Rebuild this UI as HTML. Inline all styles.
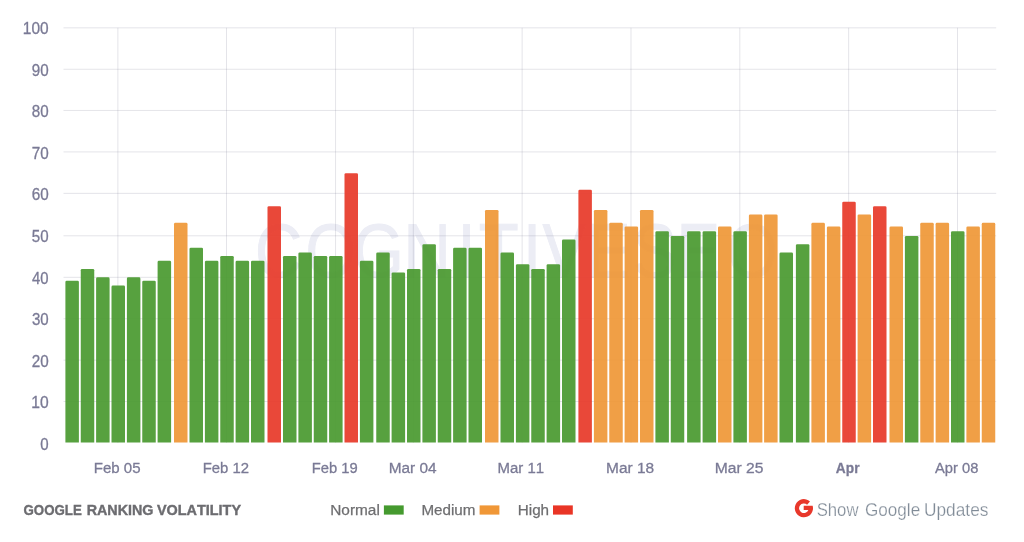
<!DOCTYPE html>
<html lang="en"><head><meta charset="utf-8"><title>Google Ranking Volatility</title>
<style>html,body{margin:0;padding:0;background:#fff;}body{width:1024px;height:542px;overflow:hidden;position:relative;font-family:"Liberation Sans",sans-serif;}svg{position:absolute;left:0;top:0;display:block;filter:blur(0.3px)}text{font-family:"Liberation Sans",sans-serif;font-kerning:none;}</style></head><body>
<svg width="1024" height="542" viewBox="0 0 1024 542">
<g transform="scale(0.860,1)"><text x="296.5 355.1 410.6 469.3 532.1 556.8 608.2 630.7 682.5 735.7 786.5 845.5" y="277.4" font-size="76" fill="#ecedf5" stroke="#ecedf5" stroke-width="0.9">COGNITIVESEO</text></g>
<g stroke="#5e5e7c" stroke-opacity="0.17" stroke-width="1">
<line x1="63.5" y1="401.50" x2="996.2" y2="401.50"/>
<line x1="63.5" y1="360.11" x2="996.2" y2="360.11"/>
<line x1="63.5" y1="318.72" x2="996.2" y2="318.72"/>
<line x1="63.5" y1="277.33" x2="996.2" y2="277.33"/>
<line x1="63.5" y1="235.80" x2="996.2" y2="235.80"/>
<line x1="63.5" y1="193.36" x2="996.2" y2="193.36"/>
<line x1="63.5" y1="151.92" x2="996.2" y2="151.92"/>
<line x1="63.5" y1="110.45" x2="996.2" y2="110.45"/>
<line x1="63.5" y1="69.25" x2="996.2" y2="69.25"/>
<line x1="63.5" y1="27.84" x2="996.2" y2="27.84"/>
<line x1="117.90" y1="27.84" x2="117.90" y2="442.90"/>
<line x1="226.50" y1="27.84" x2="226.50" y2="442.90"/>
<line x1="335.57" y1="27.84" x2="335.57" y2="442.90"/>
<line x1="413.31" y1="27.84" x2="413.31" y2="442.90"/>
<line x1="522.15" y1="27.84" x2="522.15" y2="442.90"/>
<line x1="630.98" y1="27.84" x2="630.98" y2="442.90"/>
<line x1="739.82" y1="27.84" x2="739.82" y2="442.90"/>
<line x1="848.66" y1="27.84" x2="848.66" y2="442.90"/>
<line x1="957.49" y1="27.84" x2="957.49" y2="442.90"/>
</g>
<g fill="#7a7a95" stroke="#7a7a95" stroke-width="0.3" font-size="15.7">
<text x="40.26" y="449.60" textLength="8.38" lengthAdjust="spacingAndGlyphs">0</text>
<text x="31.26" y="408.10" textLength="17.40" lengthAdjust="spacingAndGlyphs">10</text>
<text x="31.68" y="366.71" textLength="16.96" lengthAdjust="spacingAndGlyphs">20</text>
<text x="31.88" y="325.32" textLength="16.76" lengthAdjust="spacingAndGlyphs">30</text>
<text x="32.11" y="283.93" textLength="16.52" lengthAdjust="spacingAndGlyphs">40</text>
<text x="31.85" y="242.40" textLength="16.79" lengthAdjust="spacingAndGlyphs">50</text>
<text x="31.68" y="199.96" textLength="16.97" lengthAdjust="spacingAndGlyphs">60</text>
<text x="31.67" y="158.52" textLength="16.98" lengthAdjust="spacingAndGlyphs">70</text>
<text x="31.79" y="117.05" textLength="16.85" lengthAdjust="spacingAndGlyphs">80</text>
<text x="31.74" y="75.85" textLength="16.91" lengthAdjust="spacingAndGlyphs">90</text>
<text x="22.87" y="34.44" textLength="25.78" lengthAdjust="spacingAndGlyphs">100</text>
</g>
<g opacity="0.93">
<path fill="#4b9a31" d="M65.40 442.4V282.12q0 -1.3 1.3 -1.3h10.90q1.3 0 1.3 1.3V442.4z"/>
<path fill="#4b9a31" d="M80.75 442.4V270.35q0 -1.3 1.3 -1.3h10.90q1.3 0 1.3 1.3V442.4z"/>
<path fill="#4b9a31" d="M96.10 442.4V278.63q0 -1.3 1.3 -1.3h10.90q1.3 0 1.3 1.3V442.4z"/>
<path fill="#4b9a31" d="M111.50 442.4V286.91q0 -1.3 1.3 -1.3h10.90q1.3 0 1.3 1.3V442.4z"/>
<path fill="#4b9a31" d="M126.90 442.4V278.63q0 -1.3 1.3 -1.3h10.90q1.3 0 1.3 1.3V442.4z"/>
<path fill="#4b9a31" d="M142.25 442.4V282.12q0 -1.3 1.3 -1.3h10.90q1.3 0 1.3 1.3V442.4z"/>
<path fill="#4b9a31" d="M157.60 442.4V262.07q0 -1.3 1.3 -1.3h10.90q1.3 0 1.3 1.3V442.4z"/>
<path fill="#ef9838" d="M174.00 442.4V224.13q0 -1.3 1.3 -1.3h10.90q1.3 0 1.3 1.3V442.4z"/>
<path fill="#4b9a31" d="M189.50 442.4V249.01q0 -1.3 1.3 -1.3h10.90q1.3 0 1.3 1.3V442.4z"/>
<path fill="#4b9a31" d="M204.90 442.4V262.07q0 -1.3 1.3 -1.3h10.90q1.3 0 1.3 1.3V442.4z"/>
<path fill="#4b9a31" d="M220.25 442.4V257.28q0 -1.3 1.3 -1.3h10.90q1.3 0 1.3 1.3V442.4z"/>
<path fill="#4b9a31" d="M235.60 442.4V262.07q0 -1.3 1.3 -1.3h10.90q1.3 0 1.3 1.3V442.4z"/>
<path fill="#4b9a31" d="M251.00 442.4V262.07q0 -1.3 1.3 -1.3h10.90q1.3 0 1.3 1.3V442.4z"/>
<path fill="#e83b2b" d="M267.50 442.4V207.57q0 -1.3 1.3 -1.3h10.90q1.3 0 1.3 1.3V442.4z"/>
<path fill="#4b9a31" d="M283.00 442.4V257.28q0 -1.3 1.3 -1.3h10.90q1.3 0 1.3 1.3V442.4z"/>
<path fill="#4b9a31" d="M298.40 442.4V253.80q0 -1.3 1.3 -1.3h10.90q1.3 0 1.3 1.3V442.4z"/>
<path fill="#4b9a31" d="M313.75 442.4V257.28q0 -1.3 1.3 -1.3h10.90q1.3 0 1.3 1.3V442.4z"/>
<path fill="#4b9a31" d="M329.10 442.4V257.28q0 -1.3 1.3 -1.3h10.90q1.3 0 1.3 1.3V442.4z"/>
<path fill="#e83b2b" d="M344.50 442.4V174.47q0 -1.3 1.3 -1.3h10.90q1.3 0 1.3 1.3V442.4z"/>
<path fill="#4b9a31" d="M359.90 442.4V262.07q0 -1.3 1.3 -1.3h10.90q1.3 0 1.3 1.3V442.4z"/>
<path fill="#4b9a31" d="M376.25 442.4V253.80q0 -1.3 1.3 -1.3h10.90q1.3 0 1.3 1.3V442.4z"/>
<path fill="#4b9a31" d="M391.60 442.4V273.84q0 -1.3 1.3 -1.3h10.90q1.3 0 1.3 1.3V442.4z"/>
<path fill="#4b9a31" d="M407.00 442.4V270.35q0 -1.3 1.3 -1.3h10.90q1.3 0 1.3 1.3V442.4z"/>
<path fill="#4b9a31" d="M422.40 442.4V245.52q0 -1.3 1.3 -1.3h10.90q1.3 0 1.3 1.3V442.4z"/>
<path fill="#4b9a31" d="M437.75 442.4V270.35q0 -1.3 1.3 -1.3h10.90q1.3 0 1.3 1.3V442.4z"/>
<path fill="#4b9a31" d="M453.10 442.4V249.01q0 -1.3 1.3 -1.3h10.90q1.3 0 1.3 1.3V442.4z"/>
<path fill="#4b9a31" d="M468.50 442.4V249.01q0 -1.3 1.3 -1.3h10.90q1.3 0 1.3 1.3V442.4z"/>
<path fill="#ef9838" d="M485.00 442.4V211.21q0 -1.3 1.3 -1.3h10.90q1.3 0 1.3 1.3V442.4z"/>
<path fill="#4b9a31" d="M500.50 442.4V253.80q0 -1.3 1.3 -1.3h10.90q1.3 0 1.3 1.3V442.4z"/>
<path fill="#4b9a31" d="M515.90 442.4V265.56q0 -1.3 1.3 -1.3h10.90q1.3 0 1.3 1.3V442.4z"/>
<path fill="#4b9a31" d="M531.25 442.4V270.35q0 -1.3 1.3 -1.3h10.90q1.3 0 1.3 1.3V442.4z"/>
<path fill="#4b9a31" d="M546.60 442.4V265.56q0 -1.3 1.3 -1.3h10.90q1.3 0 1.3 1.3V442.4z"/>
<path fill="#4b9a31" d="M562.00 442.4V240.73q0 -1.3 1.3 -1.3h10.90q1.3 0 1.3 1.3V442.4z"/>
<path fill="#e83b2b" d="M578.40 442.4V191.02q0 -1.3 1.3 -1.3h10.90q1.3 0 1.3 1.3V442.4z"/>
<path fill="#ef9838" d="M593.90 442.4V211.21q0 -1.3 1.3 -1.3h10.90q1.3 0 1.3 1.3V442.4z"/>
<path fill="#ef9838" d="M609.25 442.4V224.13q0 -1.3 1.3 -1.3h10.90q1.3 0 1.3 1.3V442.4z"/>
<path fill="#ef9838" d="M624.60 442.4V227.76q0 -1.3 1.3 -1.3h10.90q1.3 0 1.3 1.3V442.4z"/>
<path fill="#ef9838" d="M640.00 442.4V211.21q0 -1.3 1.3 -1.3h10.90q1.3 0 1.3 1.3V442.4z"/>
<path fill="#4b9a31" d="M655.40 442.4V232.50q0 -1.3 1.3 -1.3h10.90q1.3 0 1.3 1.3V442.4z"/>
<path fill="#4b9a31" d="M670.75 442.4V237.24q0 -1.3 1.3 -1.3h10.90q1.3 0 1.3 1.3V442.4z"/>
<path fill="#4b9a31" d="M687.10 442.4V232.50q0 -1.3 1.3 -1.3h10.90q1.3 0 1.3 1.3V442.4z"/>
<path fill="#4b9a31" d="M702.60 442.4V232.50q0 -1.3 1.3 -1.3h10.90q1.3 0 1.3 1.3V442.4z"/>
<path fill="#ef9838" d="M718.00 442.4V227.76q0 -1.3 1.3 -1.3h10.90q1.3 0 1.3 1.3V442.4z"/>
<path fill="#4b9a31" d="M733.40 442.4V232.50q0 -1.3 1.3 -1.3h10.90q1.3 0 1.3 1.3V442.4z"/>
<path fill="#ef9838" d="M748.90 442.4V215.85q0 -1.3 1.3 -1.3h10.90q1.3 0 1.3 1.3V442.4z"/>
<path fill="#ef9838" d="M764.10 442.4V215.85q0 -1.3 1.3 -1.3h10.90q1.3 0 1.3 1.3V442.4z"/>
<path fill="#4b9a31" d="M779.50 442.4V253.80q0 -1.3 1.3 -1.3h10.90q1.3 0 1.3 1.3V442.4z"/>
<path fill="#4b9a31" d="M795.90 442.4V245.52q0 -1.3 1.3 -1.3h10.90q1.3 0 1.3 1.3V442.4z"/>
<path fill="#ef9838" d="M811.40 442.4V224.13q0 -1.3 1.3 -1.3h10.90q1.3 0 1.3 1.3V442.4z"/>
<path fill="#ef9838" d="M826.90 442.4V227.76q0 -1.3 1.3 -1.3h10.90q1.3 0 1.3 1.3V442.4z"/>
<path fill="#e83b2b" d="M842.25 442.4V202.94q0 -1.3 1.3 -1.3h10.90q1.3 0 1.3 1.3V442.4z"/>
<path fill="#ef9838" d="M857.60 442.4V215.85q0 -1.3 1.3 -1.3h10.90q1.3 0 1.3 1.3V442.4z"/>
<path fill="#e83b2b" d="M873.00 442.4V207.57q0 -1.3 1.3 -1.3h10.90q1.3 0 1.3 1.3V442.4z"/>
<path fill="#ef9838" d="M889.50 442.4V227.76q0 -1.3 1.3 -1.3h10.90q1.3 0 1.3 1.3V442.4z"/>
<path fill="#4b9a31" d="M904.90 442.4V237.24q0 -1.3 1.3 -1.3h10.90q1.3 0 1.3 1.3V442.4z"/>
<path fill="#ef9838" d="M920.25 442.4V224.13q0 -1.3 1.3 -1.3h10.90q1.3 0 1.3 1.3V442.4z"/>
<path fill="#ef9838" d="M935.60 442.4V224.13q0 -1.3 1.3 -1.3h10.90q1.3 0 1.3 1.3V442.4z"/>
<path fill="#4b9a31" d="M951.00 442.4V232.50q0 -1.3 1.3 -1.3h10.90q1.3 0 1.3 1.3V442.4z"/>
<path fill="#ef9838" d="M966.40 442.4V227.76q0 -1.3 1.3 -1.3h10.90q1.3 0 1.3 1.3V442.4z"/>
<path fill="#ef9838" d="M981.75 442.4V224.13q0 -1.3 1.3 -1.3h10.90q1.3 0 1.3 1.3V442.4z"/>
</g>
<g fill="#7a7a95" stroke="#7a7a95" stroke-width="0.3" font-size="15.4">
<text x="93.72" y="472.8" textLength="46.81" lengthAdjust="spacingAndGlyphs">Feb 05</text>
<text x="202.73" y="472.8" textLength="46.32" lengthAdjust="spacingAndGlyphs">Feb 12</text>
<text x="311.84" y="472.8" textLength="45.96" lengthAdjust="spacingAndGlyphs">Feb 19</text>
<text x="388.69" y="472.8" textLength="47.86" lengthAdjust="spacingAndGlyphs">Mar 04</text>
<text x="497.52" y="472.8" textLength="46.51" lengthAdjust="spacingAndGlyphs">Mar 11</text>
<text x="606.08" y="472.8" textLength="48.09" lengthAdjust="spacingAndGlyphs">Mar 18</text>
<text x="714.77" y="472.8" textLength="48.69" lengthAdjust="spacingAndGlyphs">Mar 25</text>
<text x="835.86" y="472.8" font-weight="bold" textLength="23.65" lengthAdjust="spacingAndGlyphs">Apr</text>
<text x="935.02" y="472.8" textLength="43.32" lengthAdjust="spacingAndGlyphs">Apr 08</text>
</g>
<text y="515" font-size="14.9" font-weight="bold" fill="#6c6c70" stroke="#6c6c70" stroke-width="0.4"><tspan x="23.56" textLength="58.26" lengthAdjust="spacingAndGlyphs">GOOGLE</tspan> <tspan x="86.64" textLength="66.85" lengthAdjust="spacingAndGlyphs">RANKING</tspan> <tspan x="157.00" textLength="84.03" lengthAdjust="spacingAndGlyphs">VOLATILITY</tspan></text>
<g fill="#6e6e70" stroke="#6e6e70" stroke-width="0.25" font-size="15.1">
<text x="330.24" y="515" textLength="49.59" lengthAdjust="spacingAndGlyphs">Normal</text>
<text x="421.45" y="515" textLength="54.05" lengthAdjust="spacingAndGlyphs">Medium</text>
<text x="517.75" y="515" textLength="31.34" lengthAdjust="spacingAndGlyphs">High</text>
</g>
<rect x="383.9" y="505.4" width="19.8" height="9.2" fill="#459a2f"/>
<rect x="479.6" y="505.4" width="19.8" height="9.2" fill="#f09737"/>
<rect x="553.0" y="505.4" width="19.8" height="9.2" fill="#e93526"/>
<g transform="translate(803.9,508.2)"><path fill="#e8382b" d="M6.09 -6.76A9.10 9.10 0 1 0 8.75 -2.50L-0.2 -2.50L-0.2 1.80L4.45 1.80A4.80 4.80 0 1 1 3.21 -3.57Z"/></g>
<text y="516" font-size="18.2" fill="#808b97" stroke="#fff" stroke-width="0.25"><tspan x="816.64" textLength="41.92" lengthAdjust="spacingAndGlyphs">Show</tspan> <tspan x="864.94" textLength="55.22" lengthAdjust="spacingAndGlyphs">Google</tspan> <tspan x="923.96" textLength="64.46" lengthAdjust="spacingAndGlyphs">Updates</tspan></text>
</svg></body></html>
